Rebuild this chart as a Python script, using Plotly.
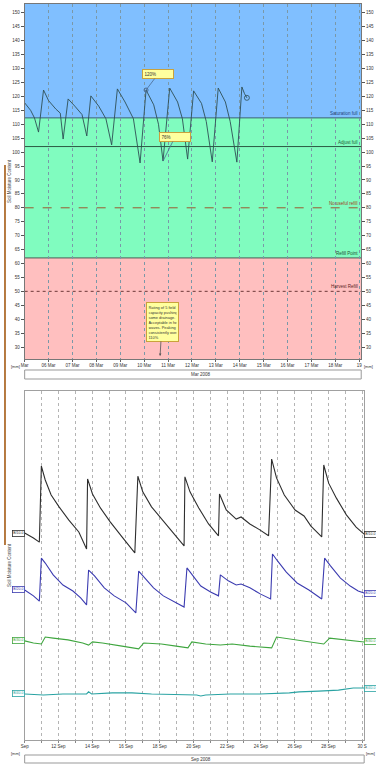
import pandas as pd
import plotly.graph_objects as go

W, H = 376, 764
FONT = "Liberation Sans"

# ---------------- upper panel: single probe, March ----------------
mar_start = "2008-03-05"
mar_days = [0.0, 0.25, 0.41, 0.58, 0.79, 1.0, 1.3, 1.49, 1.61, 1.82, 2.1, 2.4, 2.6, 2.77,
            3.1, 3.4, 3.64, 3.88, 4.2, 4.55, 4.83, 5.08, 5.4, 5.6, 5.79, 6.07, 6.4, 6.6,
            6.82, 7.07, 7.4, 7.6, 7.85, 8.1, 8.4, 8.6, 8.88, 9.09, 9.2, 9.3]
mar_moisture = [117.7, 115.0, 112.3, 107.2, 122.3, 118.5, 115.5, 114.0, 104.7, 119.1, 116.5,
                113.5, 105.8, 120.2, 116.5, 112.0, 102.6, 122.7, 118.0, 112.0, 96.1, 122.3,
                117.0, 110.0, 96.8, 123.0, 118.0, 112.0, 97.5, 122.0, 117.5, 111.0, 96.5,
                123.0, 118.0, 111.0, 96.4, 123.4, 121.0, 119.5]

# band limits and reference lines
saturation_full = 112.3
adjust_full = 102.0
no_useful_refill = 80.0
refill_point = 62.0
harvest_refill = 50.0
mar_tick_labels = ["Mar", "06 Mar", "07 Mar", "08 Mar", "09 Mar", "10 Mar", "11 Mar", "12 Mar",
                   "13 Mar", "14 Mar", "15 Mar", "16 Mar", "17 Mar", "18 Mar", "19"]
y_ticks_top = list(range(30, 151, 5))

# ---------------- lower panel: four sensors, September ----------------
sep_start = "2008-09-10"
s1_days = [0, 0.52, 0.87, 0.99, 1.22, 1.57, 2.04, 2.62, 3.21, 3.67, 3.73, 4.02, 4.49, 5.07,
           5.77, 6.53, 6.71, 7.0, 7.52, 8.22, 8.92, 9.45, 9.5, 9.8, 10.32, 10.9, 11.49, 11.55,
           11.95, 12.54, 12.83, 13.35, 13.94, 14.46, 14.64, 14.93, 15.39, 16.03, 16.56, 16.97,
           17.61, 17.73, 18.02, 18.48, 19.07, 19.65, 20.12]
s1_vals = [59.3, 57.9, 56.7, 78.5, 74.5, 70.2, 66.8, 63.0, 59.6, 54.7, 74.8, 70.5, 66.5, 62.5,
           58.2, 53.6, 75.6, 71.1, 66.8, 62.8, 58.7, 55.6, 75.4, 71.1, 66.5, 61.9, 58.5, 70.5,
           65.9, 63.3, 63.9, 61.9, 60.2, 58.5, 80.5, 75.1, 70.2, 65.9, 64.2, 61.3, 58.2, 78.8,
           73.6, 69.3, 64.5, 61.0, 59.0]
s2_days = [0, 0.52, 0.87, 0.99, 1.22, 1.69, 2.27, 2.86, 3.32, 3.67, 3.79, 4.14, 4.72, 5.31,
           6.01, 6.59, 6.76, 7.11, 7.64, 8.22, 8.92, 9.45, 9.62, 9.97, 10.44, 11.02, 11.49,
           11.6, 12.07, 12.54, 12.83, 13.35, 13.99, 14.58, 14.69, 14.99, 15.51, 16.15, 16.85,
           17.61, 17.78, 18.13, 18.72, 19.3, 19.77, 20.12]
s2_vals = [43.0, 41.3, 39.8, 52.1, 50.7, 47.3, 44.4, 42.7, 40.7, 38.7, 48.7, 47.0, 43.6, 41.3,
           39.3, 36.4, 48.4, 46.4, 43.6, 41.3, 39.5, 38.1, 49.3, 47.0, 44.1, 42.4, 41.3, 47.3,
           45.6, 44.4, 44.7, 43.6, 41.8, 40.4, 53.3, 51.3, 48.1, 45.0, 43.0, 40.4, 52.1, 49.9,
           46.4, 44.1, 42.7, 42.1]
s3_days = [0, 0.52, 0.99, 1.22, 1.69, 2.57, 3.44, 3.79, 4.02, 4.61, 5.77, 6.76, 7.06, 8.1,
           8.98, 9.68, 9.91, 10.73, 11.6, 12.3, 13.35, 14.64, 14.93, 15.69, 16.85, 17.73,
           18.08, 18.89, 20.12]
s3_vals = [28.4, 27.8, 27.5, 29.5, 29.2, 28.7, 27.8, 27.2, 28.1, 27.8, 26.9, 26.1, 27.8, 27.5,
           26.9, 26.4, 28.1, 27.5, 27.2, 27.5, 26.9, 26.4, 29.5, 28.9, 28.1, 27.5, 29.2, 28.7,
           28.1]
s4_days = [0, 1.11, 2.27, 3.67, 3.79, 3.97, 5.19, 6.36, 7.52, 9.27, 10.2, 10.44, 10.73, 12.19,
           13.94, 15.69, 16.27, 17.43, 18.6, 19.48, 20.12]
s4_vals = [13.2, 12.9, 13.2, 13.2, 13.8, 13.2, 13.5, 13.5, 13.2, 12.9, 12.9, 12.6, 12.9, 13.2,
           13.2, 13.5, 13.8, 14.0, 14.3, 14.9, 14.9]
sensor_names = ["B/10.0", "B/20.0", "B/30.0", "B/40.0"]
sensor_colors = ["#2e2e2e", "#3b3bb0", "#3fa63f", "#2aa3a3"]
sep_tick_labels = ["Sep", "", "12 Sep", "", "14 Sep", "", "16 Sep", "", "18 Sep", "", "20 Sep",
                   "", "22 Sep", "", "24 Sep", "", "26 Sep", "", "28 Sep", "", "30 S"]


def to_time(start, days):
    return pd.Timestamp(start) + pd.to_timedelta(pd.Series(days), unit="D")


def px(x):
    return x / W


def py(y):
    return 1 - y / H


fig = go.Figure()

mar_t = to_time(mar_start, mar_days)
fig.add_trace(go.Scatter(x=mar_t, y=mar_moisture, mode="lines", xaxis="x", yaxis="y",
                         line=dict(color="#2f4f55", width=0.9), showlegend=False))
# open marker at the last reading
fig.add_trace(go.Scatter(x=mar_t.iloc[-1:], y=mar_moisture[-1:], mode="markers",
                         xaxis="x", yaxis="y", showlegend=False,
                         marker=dict(symbol="circle-open", size=5, color="#2f4f55",
                                     line=dict(width=0.8))))
# empty trace carrying the mirrored right-hand scale
fig.add_trace(go.Scatter(x=[mar_t.iloc[0]], y=[None], xaxis="x", yaxis="y3",
                         showlegend=False, hoverinfo="skip"))

sensors = [(s1_days, s1_vals), (s2_days, s2_vals), (s3_days, s3_vals), (s4_days, s4_vals)]
for (d, v), name, col in zip(sensors, sensor_names, sensor_colors):
    fig.add_trace(go.Scatter(x=to_time(sep_start, d), y=v, mode="lines", xaxis="x2",
                             yaxis="y2", name=name, showlegend=False,
                             line=dict(color=col, width=1.1)))

xdom_top = [px(21), px(363)]
ydom_top = [py(359), py(4)]
xdom_bot = [px(21), px(366)]
ydom_bot = [py(740), py(391)]
top_range = [25.7, 153.2]

tickfont = dict(family=FONT, size=4.5, color="#333333")

fig.update_layout(
    width=W, height=H, margin=dict(l=0, r=0, t=0, b=0),
    paper_bgcolor="white", plot_bgcolor="white",
    font=dict(family=FONT, size=5, color="#333333"),
    xaxis=dict(domain=xdom_top, anchor="y", type="date",
               range=[pd.Timestamp(mar_start), pd.Timestamp("2008-03-19 02:00")],
               tickvals=list(pd.date_range(mar_start, periods=15, freq="D")),
               ticktext=mar_tick_labels, tickfont=tickfont, ticks="outside", ticklen=2,
               tickcolor="#666666", showgrid=True, gridcolor="#7a98a8", griddash="dot",
               gridwidth=0.7, showline=True, linecolor="#777777", linewidth=1, mirror=True,
               zeroline=False),
    yaxis=dict(domain=ydom_top, anchor="x", range=top_range, tickvals=y_ticks_top,
               tickfont=tickfont, ticks="outside", ticklen=3, tickcolor="#555555",
               showgrid=False, zeroline=False, showline=True, linecolor="#777777",
               linewidth=1),
    yaxis3=dict(overlaying="y", side="right", anchor="x", range=top_range,
                tickvals=y_ticks_top, tickfont=tickfont, ticks="outside", ticklen=3,
                tickcolor="#555555", showgrid=False, zeroline=False, showline=True,
                linecolor="#777777", linewidth=1),
    xaxis2=dict(domain=xdom_bot, anchor="y2", type="date",
                range=[pd.Timestamp(sep_start), pd.Timestamp("2008-09-30 03:00")],
                tickvals=list(pd.date_range(sep_start, periods=21, freq="D")),
                ticktext=sep_tick_labels, tickfont=tickfont, ticks="outside", ticklen=2,
                tickcolor="#888888", showgrid=True, gridcolor="#b4b4b4", griddash="dot",
                gridwidth=0.7, showline=True, linecolor="#a0a0a0", linewidth=1, mirror=True,
                zeroline=False),
    yaxis2=dict(domain=ydom_bot, anchor="x2", range=[0, 100], showticklabels=False,
                showgrid=False, zeroline=False, showline=True, linecolor="#a0a0a0",
                linewidth=1, mirror=True, ticks=""),
)

shapes = []
# moisture bands
for y0, y1, col in [(saturation_full, top_range[1], "#80bfff"),
                    (refill_point, saturation_full, "#80fcbf"),
                    (top_range[0], refill_point, "#ffbfbf")]:
    shapes.append(dict(type="rect", xref="x domain", yref="y", x0=0, x1=1, y0=y0, y1=y1,
                       fillcolor=col, line=dict(width=0), layer="below"))

ref_lines = [
    (saturation_full, "Saturation full", "#3b6670", "solid", "#1f3f7a"),
    (adjust_full, "Adjust full", "#2c5a44", "solid", "#1d5a3a"),
    (no_useful_refill, "No useful refill", "#9a5a30", "dash", "#a0401c"),
    (refill_point, "Refill Point", "#4f5a55", "solid", "#1f5030"),
    (harvest_refill, "Harvest Refill", "#6e3a3a", "dot", "#5c1e1e"),
]
annotations = []
for val, label, lcol, dash, tcol in ref_lines:
    shapes.append(dict(type="line", xref="x domain", yref="y", x0=0, x1=1, y0=val, y1=val,
                       line=dict(color=lcol, width=1, dash=dash), layer="below"))
    annotations.append(dict(xref="x domain", yref="y", x=0.995, y=val, text=label,
                            showarrow=False, xanchor="right", yanchor="bottom",
                            font=dict(size=4.5, color=tcol, family=FONT)))

# month boxes under each time axis
for x0, x1, y0, y1, label in [(21, 363, 370, 379, "Mar 2008"), (21, 366, 755, 763, "Sep 2008")]:
    shapes.append(dict(type="rect", xref="paper", yref="paper", x0=px(x0), x1=px(x1),
                       y0=py(y1), y1=py(y0), line=dict(color="#999999", width=1),
                       fillcolor="white", layer="above"))
    annotations.append(dict(xref="paper", yref="paper", x=px(188), y=py((y0 + y1) / 2),
                            text=label, showarrow=False, xanchor="left", yanchor="middle",
                            font=dict(size=4.5, color="#333333", family=FONT)))

# thin strip of the page behind the panels along the left edge
shapes.append(dict(type="rect", xref="paper", yref="paper", x0=0, x1=px(2),
                   y0=py(545), y1=py(165), fillcolor="#b5793f", line=dict(width=0),
                   layer="above"))

for x, y in [(12, 366), (370, 366), (12, 753), (372, 753)]:
    annotations.append(dict(xref="paper", yref="paper", x=px(x), y=py(y), text="[mm]",
                            showarrow=False, xanchor="center", yanchor="middle",
                            font=dict(size=4, color="#333333", family=FONT)))

# axis titles
for yc in (181, 565):
    annotations.append(dict(xref="paper", yref="paper", x=px(5), y=py(yc),
                            text="Soil Moisture Content", textangle=-90, showarrow=False,
                            xanchor="center", yanchor="middle",
                            font=dict(size=4.5, color="#444444", family=FONT)))

# callouts on the March trace
peak_i = 21
trough_i = 24
box = dict(bgcolor="#ffff9e", bordercolor="#c9a23c", borderwidth=1, borderpad=1.5)
annotations.append(dict(xref="x", yref="y", x=mar_t.iloc[peak_i], y=mar_moisture[peak_i],
                        text="120%", align="left", width=27, showarrow=True, arrowhead=0,
                        arrowcolor="#4a6a90", arrowwidth=0.8, ax=12, ay=-16,
                        font=dict(size=4.5, color="#333333", family=FONT), **box))
annotations.append(dict(xref="x", yref="y", x=mar_t.iloc[trough_i], y=mar_moisture[trough_i],
                        text="76%", align="left", width=27, showarrow=True, arrowhead=0,
                        arrowcolor="#4a6a90", arrowwidth=0.8, ax=12, ay=-24,
                        font=dict(size=4.5, color="#333333", family=FONT), **box))
annotations.append(dict(xref="x", yref="y", x=pd.Timestamp("2008-03-10 16:00"), y=26.8,
                        text="Rating of 5 field<br>capacity pushing<br>some drainage.<br>"
                             "Acceptable in heat<br>waves. Peaking<br>consistently over<br>110%",
                        align="left", width=28, showarrow=True, arrowhead=2, arrowsize=0.6,
                        arrowcolor="#555555", arrowwidth=0.8, ax=2, ay=-34,
                        font=dict(size=3.9, color="#333333", family=FONT), **box))
fig.add_trace(go.Scatter(x=mar_t.iloc[peak_i:peak_i + 1], y=mar_moisture[peak_i:peak_i + 1],
                         mode="markers", xaxis="x", yaxis="y", showlegend=False,
                         marker=dict(symbol="circle-open", size=4, color="#4a6a90")))

# sensor tags at both ends of the September traces
for (d, v), name, col in zip(sensors, sensor_names, sensor_colors):
    for xpos, anchor, val in [(px(21), "right", v[0]), (px(366), "left", v[-1])]:
        annotations.append(dict(xref="paper", yref="y2", x=xpos, y=val, text=name,
                                showarrow=False, xanchor=anchor, yanchor="middle",
                                bgcolor="white", bordercolor=col, borderwidth=0.8,
                                borderpad=0.5, font=dict(size=3.5, color=col, family=FONT)))

fig.update_layout(shapes=shapes, annotations=annotations)
fig.write_html("out.html")
